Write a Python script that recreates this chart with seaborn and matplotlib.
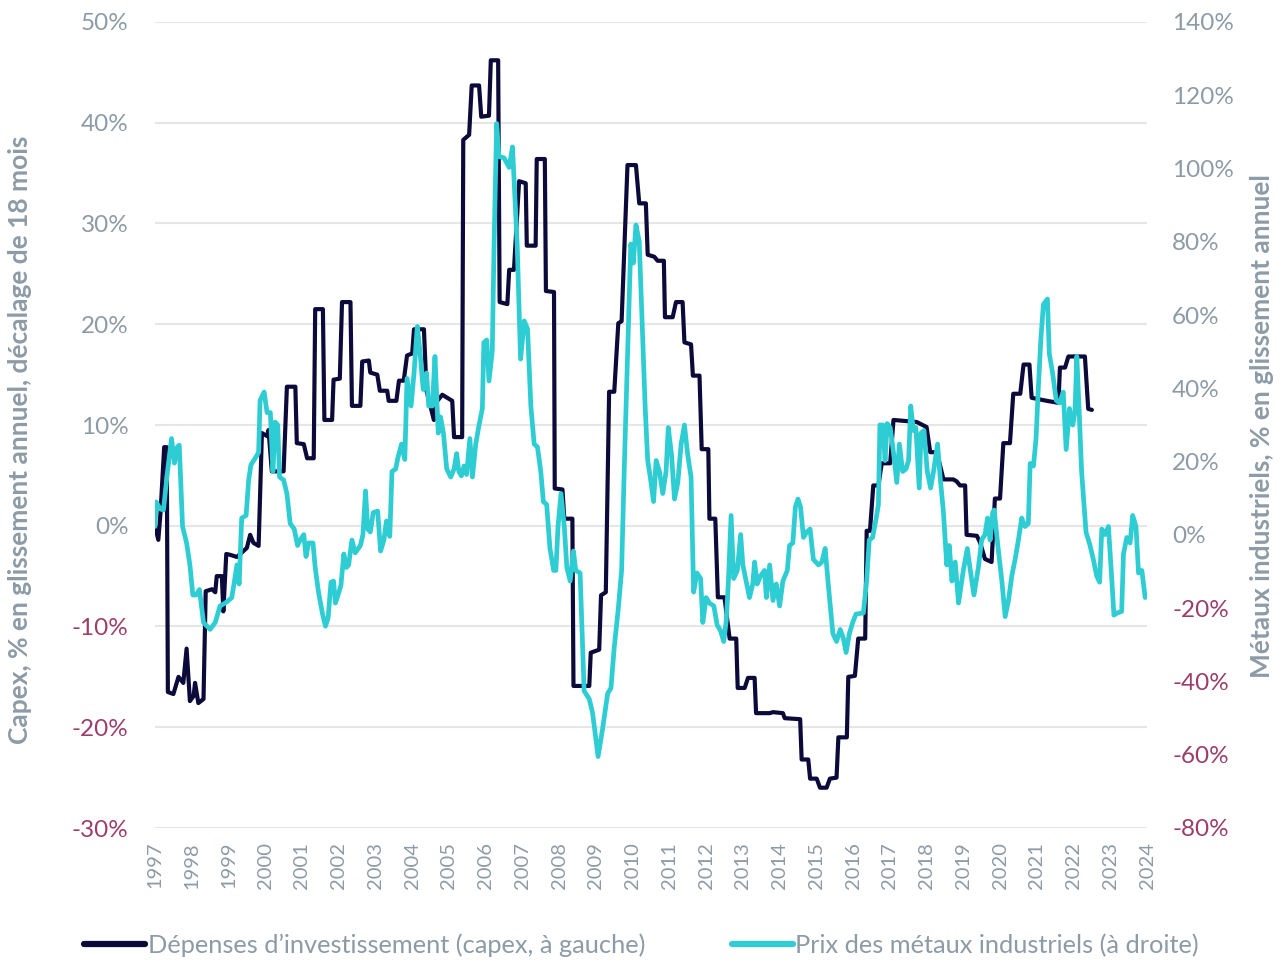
import matplotlib
matplotlib.use("Agg")
import matplotlib.pyplot as plt
from matplotlib.ticker import FuncFormatter
from matplotlib.lines import Line2D
import seaborn as sns
import pandas as pd

# Capex, % YoY, shifted 18 months (left axis)
capex_dates = [
    1997.00, 1997.09, 1997.15, 1997.25, 1997.32, 1997.35, 1997.50, 1997.64, 1997.77, 1997.86,
    1997.95, 1998.05, 1998.09, 1998.18, 1998.32, 1998.38, 1998.55, 1998.64, 1998.68, 1998.82,
    1998.86, 1998.94, 1999.06, 1999.23, 1999.50, 1999.59, 1999.68, 1999.82, 1999.91, 2000.05,
    2000.09, 2000.18, 2000.50, 2000.59, 2000.82, 2000.86, 2001.05, 2001.14, 2001.32, 2001.36,
    2001.57, 2001.61, 2001.82, 2001.86, 2002.03, 2002.09, 2002.32, 2002.36, 2002.59, 2002.64,
    2002.82, 2002.86, 2003.05, 2003.12, 2003.32, 2003.36, 2003.57, 2003.64, 2003.77, 2003.86,
    2004.00, 2004.05, 2004.32, 2004.39, 2004.59, 2004.64, 2004.82, 2005.09, 2005.14, 2005.36,
    2005.39, 2005.55, 2005.62, 2005.82, 2005.88, 2006.09, 2006.14, 2006.34, 2006.38, 2006.59,
    2006.64, 2006.77, 2006.91, 2007.09, 2007.12, 2007.36, 2007.39, 2007.61, 2007.64, 2007.86,
    2007.88, 2008.09, 2008.14, 2008.36, 2008.39, 2008.82, 2008.86, 2009.09, 2009.14, 2009.27,
    2009.36, 2009.50, 2009.61, 2009.70, 2009.86, 2010.09, 2010.18, 2010.36, 2010.41, 2010.59,
    2010.68, 2010.85, 2010.88, 2011.09, 2011.18, 2011.36, 2011.41, 2011.59, 2011.64, 2011.82,
    2011.88, 2012.06, 2012.09, 2012.25, 2012.32, 2012.50, 2012.64, 2012.82, 2012.86, 2013.05,
    2013.14, 2013.32, 2013.36, 2013.73, 2013.82, 2014.09, 2014.14, 2014.56, 2014.60, 2014.78,
    2014.83, 2015.01, 2015.10, 2015.28, 2015.37, 2015.55, 2015.60, 2015.83, 2015.87, 2016.05,
    2016.14, 2016.33, 2016.37, 2016.46, 2016.55, 2016.69, 2016.78, 2017.01, 2017.10, 2017.73,
    2018.00, 2018.10, 2018.28, 2018.46, 2018.73, 2018.82, 2018.91, 2019.05, 2019.09, 2019.37,
    2019.46, 2019.59, 2019.77, 2019.86, 2020.00, 2020.09, 2020.27, 2020.36, 2020.55, 2020.64,
    2020.80, 2020.86, 2021.27, 2021.59, 2021.63, 2021.77, 2021.86, 2022.31, 2022.40, 2022.50,
]
capex_values = [
    0.0, -1.4, 1.3, 7.8, 7.8, -16.5, -16.7, -15.0, -15.6, -12.2,
    -17.4, -16.9, -15.6, -17.6, -17.2, -6.5, -6.3, -6.6, -5.0, -5.0,
    -8.5, -2.8, -2.9, -3.1, -2.2, -0.9, -1.7, -2.0, 9.2, 8.9,
    9.5, 5.4, 5.4, 13.8, 13.8, 8.2, 8.1, 6.7, 6.7, 21.5,
    21.5, 10.5, 10.5, 14.5, 14.6, 22.2, 22.2, 11.9, 11.9, 16.3,
    16.4, 15.2, 15.0, 13.4, 13.4, 12.4, 12.4, 14.4, 14.4, 16.9,
    17.1, 19.5, 19.5, 13.4, 10.5, 12.2, 13.0, 12.4, 8.8, 8.8,
    38.3, 38.8, 43.7, 43.7, 40.6, 40.7, 46.2, 46.2, 22.2, 22.0,
    25.4, 25.4, 34.2, 34.0, 27.8, 27.8, 36.4, 36.4, 23.3, 23.2,
    3.7, 3.6, 0.7, 0.7, -15.9, -15.9, -12.6, -12.3, -6.9, -6.6,
    13.3, 13.3, 20.1, 20.3, 35.8, 35.8, 32.0, 32.0, 26.9, 26.7,
    26.3, 26.3, 20.7, 20.7, 22.2, 22.2, 18.2, 18.0, 14.9, 14.9,
    7.6, 7.6, 0.7, 0.7, -7.1, -7.1, -11.2, -11.2, -16.1, -16.1,
    -15.1, -15.1, -18.6, -18.6, -18.5, -18.6, -19.1, -19.2, -23.2, -23.2,
    -25.1, -25.1, -26.0, -26.0, -25.1, -25.0, -21.0, -21.0, -15.0, -14.9,
    -11.2, -11.2, -0.5, -0.5, 4.0, 4.0, 6.2, 6.2, 10.5, 10.3,
    9.8, 7.3, 7.3, 4.6, 4.6, 4.4, 4.0, 4.0, -0.9, -1.0,
    -1.7, -3.3, -3.6, 2.7, 2.7, 8.2, 8.2, 13.1, 13.1, 16.0,
    16.0, 12.7, 12.4, 12.2, 15.7, 15.7, 16.8, 16.8, 11.6, 11.5,
]

# Industrial metals prices, % YoY (right axis)
metal_dates = [
    1997.00, 1997.03, 1997.14, 1997.23, 1997.34, 1997.45, 1997.53, 1997.61, 1997.66, 1997.75,
    1997.86, 1997.95, 1998.03, 1998.12, 1998.21, 1998.32, 1998.50, 1998.64, 1998.77, 1998.91,
    1999.00, 1999.09, 1999.15, 1999.23, 1999.29, 1999.36, 1999.48, 1999.55, 1999.61, 1999.73,
    1999.82, 1999.86, 1999.97, 2000.05, 2000.14, 2000.21, 2000.27, 2000.34, 2000.39, 2000.50,
    2000.59, 2000.68, 2000.79, 2000.88, 2000.95, 2001.05, 2001.11, 2001.18, 2001.30, 2001.36,
    2001.45, 2001.56, 2001.64, 2001.71, 2001.79, 2001.86, 2001.91, 2001.97, 2002.06, 2002.14,
    2002.21, 2002.27, 2002.36, 2002.45, 2002.59, 2002.66, 2002.73, 2002.79, 2002.86, 2002.94,
    2003.06, 2003.14, 2003.23, 2003.30, 2003.39, 2003.45, 2003.55, 2003.61, 2003.71, 2003.80,
    2003.86, 2003.97, 2004.05, 2004.14, 2004.21, 2004.30, 2004.39, 2004.45, 2004.55, 2004.62,
    2004.71, 2004.77, 2004.85, 2004.94, 2005.05, 2005.14, 2005.21, 2005.27, 2005.34, 2005.41,
    2005.48, 2005.57, 2005.64, 2005.73, 2005.82, 2005.91, 2005.95, 2006.03, 2006.09, 2006.18,
    2006.23, 2006.30, 2006.36, 2006.50, 2006.64, 2006.73, 2006.86, 2006.95, 2007.05, 2007.14,
    2007.23, 2007.32, 2007.41, 2007.50, 2007.57, 2007.66, 2007.75, 2007.85, 2007.91, 2007.97,
    2008.05, 2008.14, 2008.21, 2008.30, 2008.39, 2008.45, 2008.57, 2008.68, 2008.82, 2008.91,
    2009.06, 2009.18, 2009.32, 2009.41, 2009.50, 2009.61, 2009.70, 2009.77, 2009.86, 2009.95,
    2010.02, 2010.09, 2010.18, 2010.25, 2010.34, 2010.41, 2010.48, 2010.57, 2010.64, 2010.73,
    2010.82, 2010.91, 2010.97, 2011.06, 2011.14, 2011.23, 2011.32, 2011.41, 2011.50, 2011.59,
    2011.66, 2011.75, 2011.85, 2011.91, 2012.00, 2012.09, 2012.21, 2012.30, 2012.39, 2012.48,
    2012.55, 2012.61, 2012.68, 2012.75, 2012.85, 2012.94, 2013.00, 2013.09, 2013.18, 2013.27,
    2013.32, 2013.39, 2013.48, 2013.59, 2013.64, 2013.73, 2013.82, 2013.91, 2014.00, 2014.09,
    2014.21, 2014.27, 2014.36, 2014.43, 2014.50, 2014.57, 2014.65, 2014.74, 2014.83, 2014.92,
    2015.06, 2015.15, 2015.24, 2015.33, 2015.45, 2015.55, 2015.65, 2015.74, 2015.81, 2015.90,
    2015.99, 2016.08, 2016.28, 2016.37, 2016.44, 2016.53, 2016.63, 2016.69, 2016.73, 2016.81,
    2016.87, 2016.93, 2017.01, 2017.10, 2017.19, 2017.26, 2017.35, 2017.44, 2017.51, 2017.57,
    2017.64, 2017.71, 2017.80, 2017.85, 2017.93, 2018.02, 2018.11, 2018.19, 2018.30, 2018.37,
    2018.46, 2018.55, 2018.62, 2018.69, 2018.78, 2018.87, 2019.00, 2019.11, 2019.18, 2019.29,
    2019.41, 2019.50, 2019.59, 2019.66, 2019.73, 2019.80, 2019.84, 2019.94, 2020.05, 2020.14,
    2020.23, 2020.32, 2020.41, 2020.50, 2020.59, 2020.68, 2020.77, 2020.82, 2020.91, 2020.98,
    2021.04, 2021.11, 2021.18, 2021.29, 2021.34, 2021.43, 2021.53, 2021.62, 2021.72, 2021.80,
    2021.89, 2021.98, 2022.04, 2022.09, 2022.16, 2022.22, 2022.34, 2022.45, 2022.54, 2022.63,
    2022.71, 2022.77, 2022.86, 2022.95, 2023.04, 2023.10, 2023.19, 2023.31, 2023.36, 2023.45,
    2023.54, 2023.61, 2023.70, 2023.77, 2023.86, 2023.95,
]
metal_values = [
    2.3, 9.0, 7.1, 6.8, 17.3, 26.3, 19.6, 24.0, 24.5, 2.3,
    -2.2, -8.2, -16.4, -16.4, -14.9, -23.9, -25.8, -23.9, -19.4, -18.6,
    -17.9, -17.1, -13.4, -8.2, -13.4, 4.6, 5.3, 15.0, 19.1, 21.0,
    22.5, 36.7, 39.0, 33.4, 33.4, 17.3, 30.8, 30.0, 15.8, 15.0,
    11.3, 3.1, 1.6, -2.9, -1.4, 0.1, -5.9, -2.2, -2.2, -8.9,
    -15.6, -21.6, -24.9, -22.8, -12.9, -12.6, -18.6, -16.8, -13.8, -5.2,
    -8.9, -8.2, -1.4, -4.9, -2.9, 0.1, 12.0, 1.6, 0.8, 6.1,
    6.5, -4.4, -1.4, 3.8, -0.4, 17.3, 18.0, 21.0, 24.8, 20.6,
    42.7, 35.2, 44.2, 56.9, 50.2, 39.7, 44.2, 35.2, 35.2, 48.7,
    27.8, 32.2, 27.8, 18.0, 15.8, 18.0, 22.2, 17.3, 16.1, 18.8,
    16.5, 26.3, 15.8, 24.8, 30.0, 34.5, 52.5, 53.2, 42.0, 50.2,
    80.1, 112.3, 103.3, 102.9, 100.3, 105.9, 78.6, 48.0, 58.4, 56.2,
    35.2, 24.8, 24.0, 17.3, 9.1, 8.3, -3.7, -9.7, -9.7, 2.3,
    11.3, 2.3, -8.9, -12.6, -4.4, -9.7, -10.4, -42.6, -44.8, -48.6,
    -60.5, -53.1, -43.3, -41.8, -30.6, -20.1, -9.7, 17.3, 48.7, 79.4,
    74.2, 84.6, 80.1, 60.7, 35.2, 20.3, 15.8, 9.1, 20.3, 17.3,
    11.3, 17.3, 29.3, 21.8, 9.8, 14.3, 24.8, 30.0, 21.8, 15.8,
    -15.6, -10.4, -11.9, -23.9, -17.1, -18.6, -19.4, -24.6, -26.1, -29.1,
    -23.2, -11.9, 5.3, -11.9, -9.7, 0.1, -8.2, -12.6, -17.1, -13.4,
    -7.4, -13.4, -11.2, -9.7, -17.1, -8.2, -17.9, -13.4, -19.4, -12.6,
    -9.7, -2.9, -2.2, 7.6, 9.8, 7.6, -0.7, 0.8, 1.6, -6.7,
    -8.2, -7.4, -3.7, -14.1, -26.9, -29.1, -25.8, -28.4, -32.1, -26.9,
    -23.9, -21.6, -21.3, -12.6, -1.4, -0.7, 4.6, 8.3, 30.0, 30.0,
    20.3, 30.4, 29.3, 22.5, 14.3, 24.8, 17.3, 18.0, 20.3, 35.2,
    28.5, 29.3, 12.8, 27.8, 28.5, 17.3, 12.8, 17.3, 24.8, 15.8,
    6.1, -8.2, -2.9, -12.6, -7.4, -18.6, -9.7, -3.7, -8.9, -16.4,
    -8.9, -1.4, 0.1, 4.6, -1.4, 6.1, 6.8, -2.9, -12.6, -22.3,
    -17.9, -11.2, -6.7, -1.4, 4.6, 2.3, 3.1, 19.5, 18.8, 26.3,
    39.7, 53.2, 62.9, 64.4, 49.5, 44.2, 36.7, 36.0, 39.0, 23.3,
    34.5, 30.0, 33.7, 48.7, 32.2, 17.3, 0.8, -2.9, -6.7, -11.2,
    -12.9, 1.6, 0.1, 2.3, -11.9, -21.9, -21.3, -20.9, -5.2, -0.7,
    -2.2, 5.3, 2.3, -10.4, -9.7, -17.1,
]

years = list(range(1997, 2025))
left_ticks = list(range(-30, 51, 10))
right_ticks = list(range(-80, 141, 20))

capex_label = "Dépenses d’investissement (capex, à gauche)"
metal_label = "Prix des métaux industriels (à droite)"
left_title = "Capex, % en glissement annuel, décalage de 18 mois"
right_title = "Métaux industriels, % en glissement annuel"

NAVY = "#0b0a3b"
CYAN = "#2ecdd4"
GREY = "#8d9ba6"
MAROON = "#9c3d6b"

sns.set_style("white")
plt.rcParams["font.family"] = ["Lato", "DejaVu Sans"]

capex_df = pd.DataFrame({"date": capex_dates, "value": capex_values})
metal_df = pd.DataFrame({"date": metal_dates, "value": metal_values})

fig = plt.figure(figsize=(12.83, 9.63), dpi=100)
ax = fig.add_axes([155 / 1283, 1 - 828 / 963, (1147 - 155) / 1283, (828 - 22) / 963])
ax2 = ax.twinx()

sns.lineplot(data=capex_df, x="date", y="value", ax=ax, color=NAVY, linewidth=3.0,
             estimator=None, sort=False)
sns.lineplot(data=metal_df, x="date", y="value", ax=ax2, color=CYAN, linewidth=3.4,
             estimator=None, sort=False)

ax.set_xlim(1997, 2024)
ax.set_ylim(-30, 50)
ax2.set_ylim(-80, 140)
ax.set_xticks(years)
ax.set_xticklabels([str(y) for y in years], rotation=90)
ax.set_yticks(left_ticks)
ax2.set_yticks(right_ticks)
pct = FuncFormatter(lambda v, p: f"{int(round(v))}%")
ax.yaxis.set_major_formatter(pct)
ax2.yaxis.set_major_formatter(pct)

ax.grid(axis="y", color="#e6e6e6", linewidth=1.5)
ax.grid(axis="x", visible=False)
ax2.grid(False)
ax.set_axisbelow(True)
for a in (ax, ax2):
    for s in a.spines.values():
        s.set_visible(False)
    a.set_xlabel("")
    a.set_ylabel("")

ax.tick_params(axis="x", length=0, pad=10, labelsize=14.5, labelcolor=GREY)
ax.tick_params(axis="y", length=0, pad=19, labelsize=17.5, labelcolor=GREY)
ax2.tick_params(axis="y", length=0, pad=18, labelsize=17.5, labelcolor=GREY)

for lab, v in zip(ax.get_yticklabels(), left_ticks):
    if v < 0:
        lab.set_color(MAROON)
for lab, v in zip(ax2.get_yticklabels(), right_ticks):
    if v < 0:
        lab.set_color(MAROON)

fig.text(20 / 1283, 1 - 440 / 963, left_title, rotation=90, ha="center", va="center",
         fontsize=19, fontweight="bold", color=GREY)
fig.text(1262 / 1283, 1 - 426 / 963, right_title, rotation=90, ha="center", va="center",
         fontsize=19, fontweight="bold", color=GREY)

handles = [Line2D([], [], color=NAVY, linewidth=4.5, solid_capstyle="round"),
           Line2D([], [], color=CYAN, linewidth=4.5, solid_capstyle="round")]
leg = fig.legend(handles, [capex_label, metal_label], loc="center", ncol=2,
                 bbox_to_anchor=(0.5, 1 - 945 / 963), frameon=False, fontsize=18.3,
                 handlelength=2.4, handletextpad=0.1, columnspacing=3.4)
for t in leg.get_texts():
    t.set_color(GREY)

fig.savefig("out.png", dpi=100)
